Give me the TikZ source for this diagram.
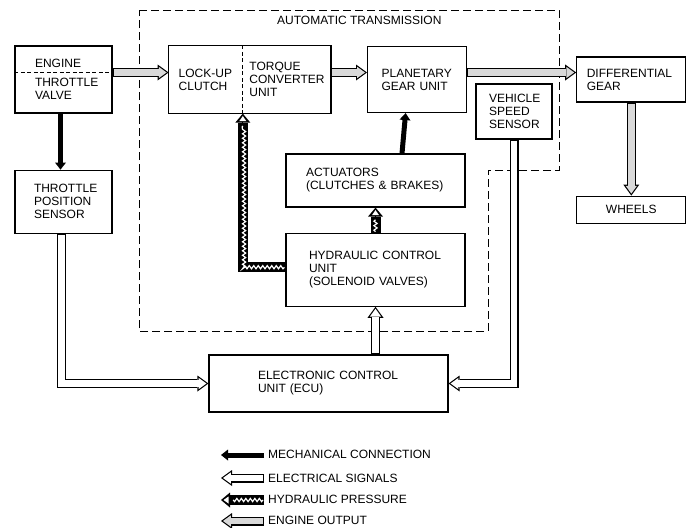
\documentclass[tikz,border=0pt]{standalone}
\usepackage{fontspec}
\setmainfont{Liberation Sans}
\usepackage{tikz}
\usetikzlibrary{arrows.meta,positioning,decorations.pathmorphing}
\tikzset{
  block/.style={
    rectangle,
    draw=black,
    line width=1.2pt,
    align=left,
    inner ysep=0pt,
    font=\fontsize{12}{13}\selectfont
  },
  plaintext/.style={
    anchor=base west,
    inner sep=0pt,
    font=\fontsize{12}{13}\selectfont
  },
  boundary/.style={line width=0.9pt, dash pattern=on 8pt off 4pt},
  divider/.style={line width=0.8pt, dash pattern=on 4pt off 2.5pt},
  mecharrow/.style={line width=5pt, -{Triangle[length=7pt,width=11pt,line width=0pt]}},
  elecarrow/.style={
    line width=9pt, line join=miter,
    -{Triangle[length=11pt,width=16pt,line width=0pt]},
    postaction={draw=white, line width=6.6pt, shorten <=1.2pt, shorten >=2pt,
      -{Triangle[length=7.8pt,width=11.3pt,line width=0pt]}}
  },
  enginearrow/.style={
    line width=9pt, line join=miter,
    -{Triangle[length=11pt,width=16pt,line width=0pt]},
    postaction={draw=black!15, line width=6.6pt, shorten <=1.2pt, shorten >=2pt,
      -{Triangle[length=7.8pt,width=11.3pt,line width=0pt]}}
  },
  hydrarrow/.style={
    line width=10pt, line join=miter,
    -{Triangle[length=9pt,width=15pt,line width=0pt]},
    postaction={draw=black, line width=1pt, shorten >=2.5pt,
      -{Triangle[color=white,length=5pt,width=7pt,line width=0pt]}},
    postaction={-, draw=white, line width=1.2pt, decorate,
      decoration={snake, amplitude=1.6pt, segment length=4.5pt,
        pre=moveto, pre length=1pt, post=moveto, post length=11pt}}
  }
}
\begin{document}
\begin{tikzpicture}[x=1pt, y=-1pt]
  \useasboundingbox (0,0) rectangle (687,527);

  % automatic transmission outline
  \draw[boundary] (139,10) -- (559,10) -- (559,170) -- (488,170) -- (488,331) -- (139,331) -- cycle;
  \node[plaintext] (title) at (277,25) {AUTOMATIC TRANSMISSION};

  \node[block, minimum width=97pt, minimum height=67pt, inner xsep=20pt, text width=57pt] (engine) at (63.5,79.5) {ENGINE\\[6pt]THROTTLE\\VALVE};
  \node[block, minimum width=97pt, minimum height=63pt, inner xsep=19pt, text width=59pt, below=56pt of engine] (tps) {THROTTLE\\POSITION\\SENSOR};
  \node[block, draw=none, minimum width=73pt, minimum height=67pt, inner xsep=9.5pt, text width=54pt, right=56pt of engine] (lockup) {LOCK-UP\\CLUTCH};
  \node[block, draw=none, minimum width=87pt, minimum height=67pt, inner xsep=6pt, text width=75pt, right=0pt of lockup] (torque) {TORQUE\\CONVERTER\\UNIT};
  \node[block, minimum width=99pt, minimum height=66pt, inner xsep=14pt, text width=71pt, right=36pt of torque] (planetary) {PLANETARY\\GEAR UNIT};
  \node[block, minimum width=109pt, minimum height=45pt, inner xsep=10pt, text width=89pt, right=109pt of planetary] (differential) {DIFFERENTIAL\\GEAR};
  \node[block, align=center, minimum width=109pt, minimum height=27pt, below=93pt of differential] (wheels) {WHEELS};
  \node[block, minimum width=76pt, minimum height=55pt, inner xsep=13pt, text width=50pt] (vss) at (514,111.5) {VEHICLE\\SPEED\\SENSOR};
  \node[block, minimum width=179pt, minimum height=53pt, inner xsep=20pt, text width=139pt] (actuators) at (375.5,180.5) {ACTUATORS\\(CLUTCHES \& BRAKES)};
  \node[block, minimum width=179pt, minimum height=73pt, inner xsep=23pt, text width=133pt, below=25pt of actuators] (hydraulic) {HYDRAULIC~CONTROL\\UNIT\\(SOLENOID~VALVES)};
  \node[block, minimum width=239pt, minimum height=57pt, inner xsep=49pt, text width=141pt] (ecu) at (328.5,383.5) {ELECTRONIC~CONTROL\\UNIT (ECU)};

  \draw[line width=1.2pt] (lockup.north west) rectangle (torque.south east);
  \draw[divider] (lockup.north east) -- (lockup.south east);
  \draw[divider] ([yshift=7.5pt]engine.west) -- ([yshift=7.5pt]engine.east);

  % connections
  \coordinate (drive) at (0,72.5);
  \draw[enginearrow] (engine.east |- drive) -- (lockup.west |- drive);
  \draw[enginearrow] (torque.east |- drive) -- (planetary.west |- drive);
  \draw[enginearrow] (planetary.east |- drive) -- (differential.west |- drive);
  \draw[enginearrow] (differential) -- (wheels);
  \draw[mecharrow] ([xshift=-3pt]engine.south) -- ([xshift=-3pt]tps.north);
  \draw[mecharrow] ([xshift=26.5pt]actuators.north) -- ([xshift=-11.5pt]planetary.south);
  \draw[hydrarrow] (hydraulic) -- (actuators);
  \draw[hydrarrow] ([yshift=2.5pt]hydraulic.west) -| (lockup.south east);
  \draw[elecarrow] (ecu.north -| hydraulic.south) -- (hydraulic.south);
  \draw[elecarrow] ([xshift=-2pt]tps.south) |- (ecu.west);
  \draw[elecarrow] (vss.south) |- (ecu.east);

  % legend
  \node[plaintext, inner xsep=4pt] (legmech) at (264,458.5) {MECHANICAL CONNECTION};
  \node[plaintext, inner xsep=4pt] (legelec) at (264,482) {ELECTRICAL SIGNALS};
  \node[plaintext, inner xsep=4pt] (leghydr) at (264,503.5) {HYDRAULIC PRESSURE};
  \node[plaintext, inner xsep=4pt] (legengine) at (264,524.5) {ENGINE OUTPUT};
  \coordinate (mechtip) at (221,455);
  \coordinate (electip) at (221,478);
  \coordinate (hydrtip) at (221,500);
  \coordinate (enginetip) at (221,521);
  \draw[mecharrow] (legmech.west |- mechtip) -- (mechtip);
  \draw[elecarrow] (legelec.west |- electip) -- (electip);
  \draw[hydrarrow] (leghydr.west |- hydrtip) -- (hydrtip);
  \draw[enginearrow] (legengine.west |- enginetip) -- (enginetip);
\end{tikzpicture}
\end{document}
